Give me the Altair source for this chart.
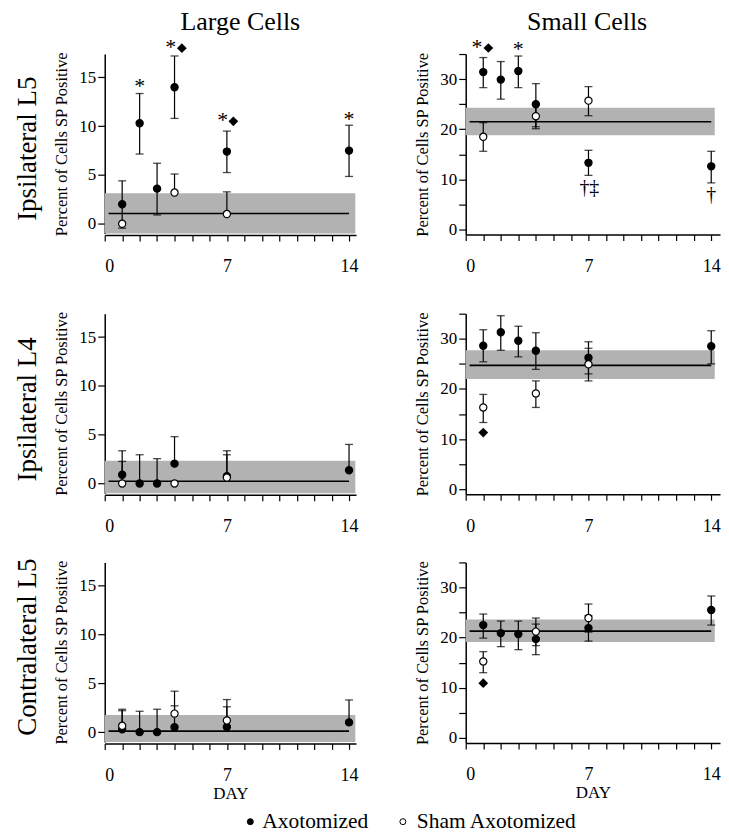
import altair as alt
import pandas as pd

FONT = "Liberation Serif"

DAYS_AX = [1, 2, 3, 4, 7, 14]
DAYS_SHAM = [1, 4, 7]

# ---- Large cells, Ipsilateral L5
LG_IL5_AX = [2.0, 10.3, 3.6, 14.0, 7.4, 7.5]
LG_IL5_AX_HI = [4.4, 13.35, 6.2, 17.2, 9.5, 10.1]
LG_IL5_AX_LO = [-0.45, 7.15, 0.9, 10.8, 5.25, 4.85]
LG_IL5_SH = [0.0, 3.2, 1.0]
LG_IL5_SH_HI = [None, 5.1, 3.27]
LG_IL5_SH_LO = [None, None, None]
LG_IL5_BAND = [-1.0, 3.13]
LG_IL5_MEAN = 1.06
LG_IL5_STAR_X = [2.0, 3.78, 6.76, 14.0]
LG_IL5_STAR_Y = [14.05, 18.0, 10.5, 10.65]
LG_IL5_DIAM_X = [4.42, 7.37]
LG_IL5_DIAM_Y = [18.0, 10.5]

# ---- Large cells, Ipsilateral L4
LG_IL4_AX = [0.9, 0.0, 0.0, 2.03, 0.75, 1.35]
LG_IL4_AX_HI = [3.35, 2.94, 2.54, 4.8, 3.35, 4.0]
LG_IL4_AX_LO = [None, None, None, None, None, None]
LG_IL4_SH = [0.0, 0.0, 0.6]
LG_IL4_SH_HI = [2.26, None, 2.94]
LG_IL4_SH_LO = [None, None, None]
LG_IL4_BAND = [-1.0, 2.33]
LG_IL4_MEAN = 0.23

# ---- Large cells, Contralateral L5
LG_CL5_AX = [0.3, 0.0, 0.0, 0.5, 0.53, 1.0]
LG_CL5_AX_HI = [2.2, 2.14, 2.35, 2.7, 2.6, 3.3]
LG_CL5_AX_LO = [None, None, None, None, None, None]
LG_CL5_SH = [0.65, 1.9, 1.2]
LG_CL5_SH_HI = [2.35, 4.2, 3.34]
LG_CL5_SH_LO = [None, None, None]
LG_CL5_BAND = [-1.0, 1.77]
LG_CL5_MEAN = 0.1

# ---- Small cells, Ipsilateral L5
SM_IL5_AX = [31.4, 29.9, 31.6, 25.0, 13.3, 12.6]
SM_IL5_AX_HI = [34.3, 33.5, 34.6, 29.1, 15.8, 15.6]
SM_IL5_AX_LO = [28.3, 26.0, 28.3, 20.5, 10.8, 9.3]
SM_IL5_SH = [18.5, 22.6, 25.7]
SM_IL5_SH_HI = [21.3, 25.0, 28.5]
SM_IL5_SH_LO = [15.6, 20.1, 22.7]
SM_IL5_BAND = [18.8, 24.3]
SM_IL5_MEAN = 21.5
SM_IL5_STAR_X = [0.64, 3.0]
SM_IL5_STAR_Y = [36.2, 35.9]
SM_IL5_DIAM_X = [1.29]
SM_IL5_DIAM_Y = [36.2]
SM_IL5_DAG_X = [7.05, 14.0]
SM_IL5_DAG_Y = [8.2, 6.8]
SM_IL5_DAG_T = ["†‡", "†"]

# ---- Small cells, Ipsilateral L4
SM_IL4_AX = [28.6, 31.3, 29.6, 27.6, 26.2, 28.5]
SM_IL4_AX_HI = [31.8, 34.6, 32.5, 31.2, 29.4, 31.6]
SM_IL4_AX_LO = [25.4, 27.7, 26.4, 23.9, 23.0, 25.0]
SM_IL4_SH = [16.3, 19.1, 24.9]
SM_IL4_SH_HI = [18.9, 21.6, 28.1]
SM_IL4_SH_LO = [13.3, 16.3, 21.6]
SM_IL4_BAND = [22.0, 27.7]
SM_IL4_MEAN = 24.7
SM_IL4_DIAM_X = [1]
SM_IL4_DIAM_Y = [11.3]

# ---- Small cells, Contralateral L5
SM_CL5_AX = [22.5, 20.9, 20.7, 19.7, 21.9, 25.5]
SM_CL5_AX_HI = [24.7, 23.3, 23.3, 22.7, 24.4, 28.3]
SM_CL5_AX_LO = [19.9, 18.2, 17.6, 16.6, 19.3, 22.5]
SM_CL5_SH = [15.25, 21.2, 23.9]
SM_CL5_SH_HI = [17.2, 23.9, 26.7]
SM_CL5_SH_LO = [13.0, 18.4, 21.1]
SM_CL5_BAND = [19.1, 23.6]
SM_CL5_MEAN = 21.3
SM_CL5_DIAM_X = [1]
SM_CL5_DIAM_Y = [10.9]

COL_TITLES = ["Large Cells", "Small Cells"]
ROW_TITLES = ["Ipsilateral L5", "Ipsilateral L4", "Contralateral L5"]
LEGEND_LABELS = ["Axotomized", "Sham Axotomized"]
Y_TITLE = "Percent of Cells SP Positive"


def bar_frames(days, ys, his, los):
    bars, caps = [], []
    for d, y, h, l in zip(days, ys, his, los):
        hi = h if h is not None else y
        lo = l if l is not None else y
        if hi > lo:
            bars.append({"x": d, "y": lo, "y2": hi})
        if h is not None:
            caps.append({"x": d, "y": h})
        if l is not None:
            caps.append({"x": d, "y": l})
    return pd.DataFrame(bars, columns=["x", "y", "y2"]), pd.DataFrame(caps, columns=["x", "y"])


def panel(ax, ax_hi, ax_lo, sh, sh_hi, sh_lo, band, mean, small, bottom,
          stars=None, diamonds=None, daggers=None, col_title=None, row_title=None,
          row_y=90, legend=False, extra_top=0):
    xmax = 14.5 if small else 14.4
    band_right = 14.2 if small else 14.36
    ydom = [-1, 35] if small else [-1, 17.4]
    width = 255 if small else 252
    inner_h = 181 if small else 180
    height = inner_h + extra_top
    xs = alt.Scale(domain=[0, xmax], nice=False, zero=False)
    ys = alt.Scale(domain=ydom, nice=False, zero=False, range=[height, extra_top])
    xaxis = alt.Axis(values=list(range(15)),
                     labelExpr="datum.value % 7 == 0 ? datum.label : ''",
                     title="DAY" if bottom else "", tickSize=6, labelPadding=17,
                     titlePadding=1, labelFontSize=18, titleFontSize=17,
                     offset=0 if small else 1.5)
    if small:
        yaxis = alt.Axis(values=list(range(0, 36, 5)),
                         labelExpr="datum.value % 10 == 0 ? datum.label : ''",
                         title=Y_TITLE, tickSize=7, labelPadding=2, titlePadding=9,
                         labelFontSize=17, titleFontSize=16.5)
    else:
        yaxis = alt.Axis(values=[0, 5, 10, 15], title=Y_TITLE, tickSize=7,
                         labelPadding=2, titlePadding=9, labelFontSize=17,
                         titleFontSize=16.5)
    X = alt.X("x:Q", scale=xs, axis=xaxis)
    Y = alt.Y("y:Q", scale=ys, axis=yaxis)

    band_df = pd.DataFrame({"x": [0], "x2": [band_right], "y": [band[0]], "y2": [band[1]]})
    mean_df = pd.DataFrame({"x": [0.22], "x2": [14.0], "y": [mean]})

    layers = [
        alt.Chart(band_df).mark_rect(color="#b2b2b2").encode(x=X, x2="x2:Q", y=Y, y2="y2:Q"),
        alt.Chart(mean_df).mark_rule(color="black", strokeWidth=1.6).encode(x=X, x2="x2:Q", y=Y),
    ]
    for days, vals, his, los, fill in [(DAYS_AX, ax, ax_hi, ax_lo, "black"),
                                       (DAYS_SHAM, sh, sh_hi, sh_lo, "white")]:
        bars, caps = bar_frames(days, vals, his, los)
        pts = pd.DataFrame({"x": days, "y": vals})
        if len(bars):
            layers.append(alt.Chart(bars).mark_rule(color="black", strokeWidth=1.2)
                          .encode(x=X, y=Y, y2="y2:Q"))
        if len(caps):
            layers.append(alt.Chart(caps).mark_tick(orient="horizontal", color="black",
                                                    size=8, thickness=1.3)
                          .encode(x=X, y=Y))
        layers.append(alt.Chart(pts).mark_point(shape="circle", filled=True, fill=fill,
                                                stroke="black", strokeWidth=1.2,
                                                size=52, opacity=1)
                      .encode(x=X, y=Y))
    if diamonds is not None:
        ddf = pd.DataFrame({"x": diamonds[0], "y": diamonds[1]})
        layers.append(alt.Chart(ddf).mark_point(shape="diamond", filled=True, color="black",
                                                size=95, opacity=1)
                      .encode(x=X, y=Y))
    if stars is not None:
        sdf = pd.DataFrame({"x": stars[0], "y": stars[1], "t": ["*"] * len(stars[0])})
        layers.append(alt.Chart(sdf).mark_text(font=FONT, fontSize=22, color="black",
                                               fill="black", baseline="alphabetic",
                                               align="center", dy=6)
                      .encode(x=X, y=Y, text="t:N"))
    if daggers is not None:
        gdf = pd.DataFrame({"x": daggers[0], "y": daggers[1], "t": daggers[2]})
        layers.append(alt.Chart(gdf).mark_text(font=FONT, fontSize=20, color="black",
                                               fill="black", baseline="alphabetic",
                                               align="center", dy=6)
                      .encode(x=X, y=Y, text="t:N"))
    if col_title is not None:
        cdf = pd.DataFrame({"t": [col_title]})
        cx = 121.7 if small else 136
        layers.append(alt.Chart(cdf).mark_text(font=FONT, fontSize=26, color="black",
                                               baseline="alphabetic", align="center")
                      .encode(text="t:N", x=alt.value(cx), y=alt.value(-24)))
    if row_title is not None:
        rdf = pd.DataFrame({"t": [row_title]})
        layers.append(alt.Chart(rdf).mark_text(font=FONT, fontSize=27, color="black",
                                               baseline="alphabetic", align="center",
                                               angle=270)
                      .encode(text="t:N", x=alt.value(-69), y=alt.value(row_y + extra_top)))
    if legend:
        ldf = pd.DataFrame({"t": LEGEND_LABELS, "px": [146, 299], "tx": [158, 313],
                            "f": ["black", "white"]})
        layers.append(alt.Chart(ldf).mark_point(shape="circle", filled=True, stroke="black",
                                                strokeWidth=1, size=36, opacity=1)
                      .encode(x=alt.X("px:Q", scale=None), y=alt.value(260),
                              fill=alt.Fill("f:N", scale=None)))
        layers.append(alt.Chart(ldf).mark_text(font=FONT, fontSize=21.5, color="black",
                                               baseline="middle", align="left")
                      .encode(text="t:N", x=alt.X("tx:Q", scale=None), y=alt.value(260)))
    return alt.layer(*layers).properties(width=width, height=height)


p1 = panel(LG_IL5_AX, LG_IL5_AX_HI, LG_IL5_AX_LO, LG_IL5_SH, LG_IL5_SH_HI, LG_IL5_SH_LO,
           LG_IL5_BAND, LG_IL5_MEAN, False, False,
           stars=(LG_IL5_STAR_X, LG_IL5_STAR_Y), diamonds=(LG_IL5_DIAM_X, LG_IL5_DIAM_Y),
           col_title=COL_TITLES[0], row_title=ROW_TITLES[0], row_y=95)
p2 = panel(SM_IL5_AX, SM_IL5_AX_HI, SM_IL5_AX_LO, SM_IL5_SH, SM_IL5_SH_HI, SM_IL5_SH_LO,
           SM_IL5_BAND, SM_IL5_MEAN, True, False,
           stars=(SM_IL5_STAR_X, SM_IL5_STAR_Y), diamonds=(SM_IL5_DIAM_X, SM_IL5_DIAM_Y),
           daggers=(SM_IL5_DAG_X, SM_IL5_DAG_Y, SM_IL5_DAG_T), col_title=COL_TITLES[1])
p3 = panel(LG_IL4_AX, LG_IL4_AX_HI, LG_IL4_AX_LO, LG_IL4_SH, LG_IL4_SH_HI, LG_IL4_SH_LO,
           LG_IL4_BAND, LG_IL4_MEAN, False, False, row_title=ROW_TITLES[1], row_y=96,
           extra_top=11)
p4 = panel(SM_IL4_AX, SM_IL4_AX_HI, SM_IL4_AX_LO, SM_IL4_SH, SM_IL4_SH_HI, SM_IL4_SH_LO,
           SM_IL4_BAND, SM_IL4_MEAN, True, False, diamonds=(SM_IL4_DIAM_X, SM_IL4_DIAM_Y),
           extra_top=11)
p5 = panel(LG_CL5_AX, LG_CL5_AX_HI, LG_CL5_AX_LO, LG_CL5_SH, LG_CL5_SH_HI, LG_CL5_SH_LO,
           LG_CL5_BAND, LG_CL5_MEAN, False, True, row_title=ROW_TITLES[2], row_y=85,
           legend=True)
p6 = panel(SM_CL5_AX, SM_CL5_AX_HI, SM_CL5_AX_LO, SM_CL5_SH, SM_CL5_SH_HI, SM_CL5_SH_LO,
           SM_CL5_BAND, SM_CL5_MEAN, True, True, diamonds=(SM_CL5_DIAM_X, SM_CL5_DIAM_Y))

chart = alt.concat(p1, p2, p3, p4, p5, p6, columns=2,
                   spacing={"row": 68.4, "column": 110}, bounds="flush").properties(
    padding={"left": 6, "top": 0, "right": 0, "bottom": 0}
).configure_view(stroke=None).configure_axis(
    grid=False, labelFont=FONT, titleFont=FONT, labelColor="black", titleColor="black",
    domainColor="black", tickColor="black", domainWidth=1.5, tickWidth=1.2,
    titleFontWeight="normal", labelFontWeight="normal"
)

chart.save("out.html", embed_options={"renderer": "svg", "actions": False})
